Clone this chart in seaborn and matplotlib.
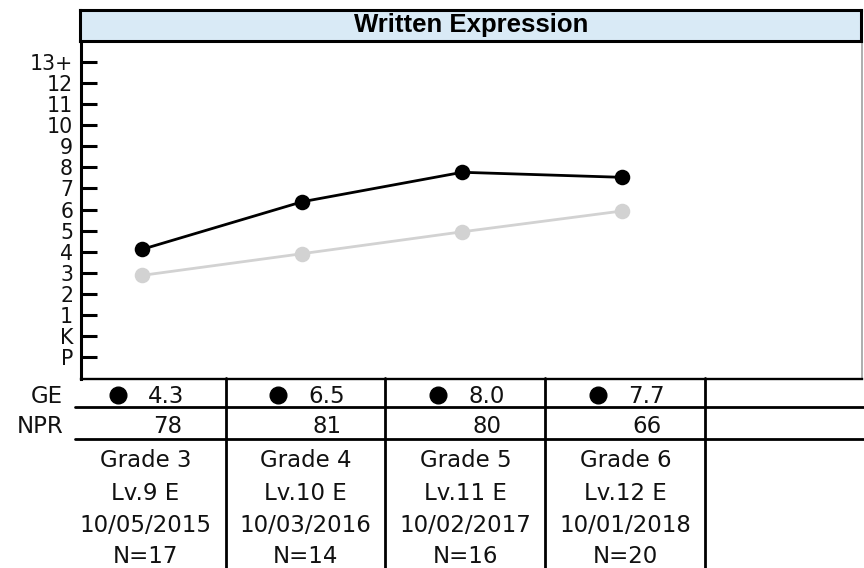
import matplotlib
matplotlib.use("Agg")
import matplotlib.pyplot as plt
from matplotlib.lines import Line2D
from matplotlib.transforms import blended_transform_factory
import seaborn as sns
import pandas as pd

# ---------------- data ----------------
title = "Written Expression"
sessions = [0, 1, 2, 3]
student_ge_plot = [4.11, 6.37, 7.77, 7.53]   # plotted positions (grade units, K=0, P=-1)
norm_ge_plot = [2.87, 3.90, 4.94, 5.93]
ge_text = ["4.3", "6.5", "8.0", "7.7"]
npr_text = ["78", "81", "80", "66"]
grades = ["Grade 3", "Grade 4", "Grade 5", "Grade 6"]
levels = ["Lv.9 E", "Lv.10 E", "Lv.11 E", "Lv.12 E"]
dates = ["10/05/2015", "10/03/2016", "10/02/2017", "10/01/2018"]
counts = ["N=17", "N=14", "N=16", "N=20"]
ytick_vals = list(range(-1, 14))
ytick_labels = ["P", "K", "1", "2", "3", "4", "5", "6", "7", "8", "9", "10", "11", "12", "13+"]

sns.set_theme(style="white")
plt.rcParams["font.family"] = ["DejaVu Sans"]

W, H = 864, 568
def fx(px):
    return px / W
def fy(py):
    return 1 - py / H

fig = plt.figure(figsize=(W / 100, H / 100), dpi=100)
fig.patch.set_facecolor("white")

# ---------------- main axes ----------------
ax = fig.add_axes([fx(80.7), fy(379), (862 - 80.7) / W, (379 - 42) / H])
ax.set_facecolor("white")
df = pd.DataFrame({
    "x": sessions + sessions,
    "y": norm_ge_plot + student_ge_plot,
    "series": ["Norm"] * len(sessions) + ["Student"] * len(sessions),
})
sns.lineplot(data=df, x="x", y="y", hue="series", hue_order=["Norm", "Student"],
             palette={"Norm": "#d2d2d2", "Student": "#000000"},
             marker="o", markersize=11.2, markeredgewidth=0, linewidth=2.0,
             legend=False, ax=ax)
ax.set_xlim(-0.386, 4.5)
ax.set_ylim(-2.06, 13.965)
ax.set_xticks([])
ax.set_yticks(ytick_vals)
ax.set_yticklabels(ytick_labels)
ax.set_xlabel("")
ax.set_ylabel("")
ax.tick_params(axis="y", direction="in", length=11.5, width=2.2, pad=5.5,
               labelsize=14.8, left=True, colors="black")
for lab in ax.get_yticklabels():
    lab.set_color("#111111")
ax.spines["top"].set_visible(False)
ax.spines["left"].set_linewidth(2.2)
ax.spines["left"].set_color("black")
ax.spines["bottom"].set_linewidth(1.7)
ax.spines["bottom"].set_color("black")
ax.spines["right"].set_linewidth(1.2)
ax.spines["right"].set_color("#a0a0a0")

# ---------------- title box ----------------
tax = fig.add_axes([fx(80.3), fy(40.7), (861 - 80.3) / W, 31 / H])
tax.set_facecolor("#d9eaf6")
tax.set_xticks([])
tax.set_yticks([])
for s in tax.spines.values():
    s.set_linewidth(2.2)
    s.set_color("black")
fig.text(fx(471), fy(32), title, ha="center", va="baseline", fontsize=18.5,
         fontweight="bold", family=["Liberation Sans", "DejaVu Sans"], color="black")

# ---------------- table ----------------
blend = blended_transform_factory(ax.transData, fig.transFigure)
for yy in (406.7, 439):
    fig.add_artist(Line2D([fx(75), 1.0], [fy(yy), fy(yy)], transform=fig.transFigure,
                          color="black", lw=2.0))
for i in sessions:
    fig.add_artist(Line2D([i + 0.52, i + 0.52], [fy(378), 0.0], transform=blend,
                          color="black", lw=2.0))

fs = 16.5
fig.text(fx(63), fy(403), "GE", ha="right", va="baseline", fontsize=fs, color="#111111")
fig.text(fx(63), fy(433), "NPR", ha="right", va="baseline", fontsize=fs, color="#111111")
for i in sessions:
    fig.add_artist(Line2D([i - 0.15], [fy(395)], transform=blend, marker="o",
                          ms=12, color="black", ls="none"))
    ax.text(i + 0.15, fy(403), ge_text[i], transform=blend, ha="center", va="baseline",
            fontsize=fs, color="#111111", clip_on=False)
    ax.text(i + 0.155, fy(433), npr_text[i], transform=blend, ha="center", va="baseline",
            fontsize=fs, color="#111111", clip_on=False)
    for txt, base in ((grades[i], 467), (levels[i], 500), (dates[i], 531.5), (counts[i], 563)):
        ax.text(i + 0.02, fy(base), txt, transform=blend, ha="center", va="baseline",
                fontsize=fs, color="#111111", clip_on=False)

fig.savefig("out.png", dpi=100)
